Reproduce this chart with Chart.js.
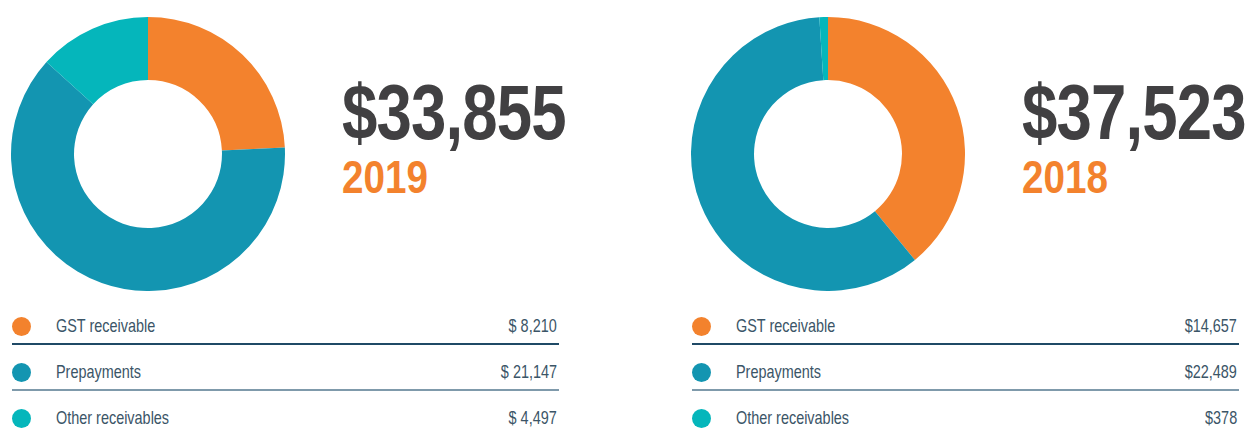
<!DOCTYPE html>
<html>
<head>
<meta charset="utf-8">
<script src="https://cdn.jsdelivr.net/npm/chart.js@4.4.1/dist/chart.umd.min.js"></script>
<style>
  html, body { margin: 0; padding: 0; background: #ffffff; }
  body { width: 1249px; height: 430px; position: relative; overflow: hidden;
         font-family: "Liberation Sans Narrow", "Liberation Sans", Arial, sans-serif; }
  .panel { position: absolute; top: 0; width: 600px; height: 430px; }
  .donut { position: absolute; }
  .total { position: absolute; left: 342px; top: 74px; font-size: 77px; line-height: 76px;
           font-weight: bold; color: #414042; white-space: nowrap; letter-spacing: -1px;
           transform: scaleX(0.825); transform-origin: left center; }
  .year { position: absolute; left: 342px; top: 154px; font-size: 46px; line-height: 46px;
          font-weight: bold; color: #f3822d; white-space: nowrap;
          transform: scaleX(0.84); transform-origin: left center; }
  .dot { position: absolute; width: 19px; height: 19px; border-radius: 50%; }
  .lab { position: absolute; left: 56px; font-size: 18.5px; line-height: 18px; color: #3b5567; white-space: nowrap;
         transform: scaleX(0.78); transform-origin: left center; }
  .val { position: absolute; right: 0; font-size: 18.5px; line-height: 18px; color: #3b5567; white-space: nowrap; text-align: right;
         transform: scaleX(0.78); transform-origin: right center; }
  .rule { position: absolute; left: 12px; height: 1.5px; }
</style>
</head>
<body>
<script>
// ---- data ----
const categories = ["GST receivable", "Prepayments", "Other receivables"];
const years = ["2019", "2018"];
const totals = ["$33,855", "$37,523"];
const values2019 = [8210, 21147, 4497];
const values2018 = [14657, 22489, 378];
const valueLabels2019 = ["$ 8,210", "$ 21,147", "$ 4,497"];
const valueLabels2018 = ["$14,657", "$22,489", "$378"];
const colors = ["#f3822d", "#1395b1", "#05b6bb"];

const panels = [
  { year: years[0], total: totals[0], values: values2019, labels: valueLabels2019, x: 0, width: 557 },
  { year: years[1], total: totals[1], values: values2018, labels: valueLabels2018, x: 680, width: 557 }
];

const rowCenters = [326, 372, 418];
const ruleColors = ["#1f4a66", "#7f9aab"];

panels.forEach((p, pi) => {
  const panel = document.createElement('div');
  panel.className = 'panel';
  panel.style.left = p.x + 'px';
  panel.style.width = p.width + 'px';
  document.body.appendChild(panel);

  const cv = document.createElement('canvas');
  cv.className = 'donut';
  const size = 274;
  cv.width = size; cv.height = size;
  cv.style.width = size + 'px'; cv.style.height = size + 'px';
  cv.style.left = (148 - size / 2) + 'px';
  cv.style.top = (154 - size / 2) + 'px';
  panel.appendChild(cv);

  new Chart(cv.getContext('2d'), {
    type: 'doughnut',
    data: {
      labels: categories,
      datasets: [{ data: p.values, backgroundColor: colors, borderWidth: 0 }]
    },
    options: {
      responsive: false,
      animation: false,
      cutout: '54%',
      rotation: 0,
      layout: { padding: 0 },
      plugins: { legend: { display: false }, tooltip: { enabled: false } }
    }
  });

  const t = document.createElement('div');
  t.className = 'total'; t.textContent = p.total; panel.appendChild(t);
  const y = document.createElement('div');
  y.className = 'year'; y.textContent = p.year; panel.appendChild(y);

  categories.forEach((c, i) => {
    const cy = rowCenters[i];
    const d = document.createElement('div');
    d.className = 'dot';
    d.style.left = '12px';
    d.style.top = (cy - 9.5) + 'px';
    d.style.background = colors[i];
    panel.appendChild(d);

    const l = document.createElement('div');
    l.className = 'lab'; l.textContent = c;
    l.style.top = (cy - 9) + 'px';
    panel.appendChild(l);

    const v = document.createElement('div');
    v.className = 'val'; v.textContent = p.labels[i];
    v.style.top = (cy - 9) + 'px';
    panel.appendChild(v);

    if (i < 2) {
      const r = document.createElement('div');
      r.className = 'rule';
      r.style.top = (cy + 17) + 'px';
      r.style.width = (p.width - 12 + 2) + 'px';
      r.style.background = ruleColors[i];
      panel.appendChild(r);
    }
  });
});
</script>
</body>
</html>
